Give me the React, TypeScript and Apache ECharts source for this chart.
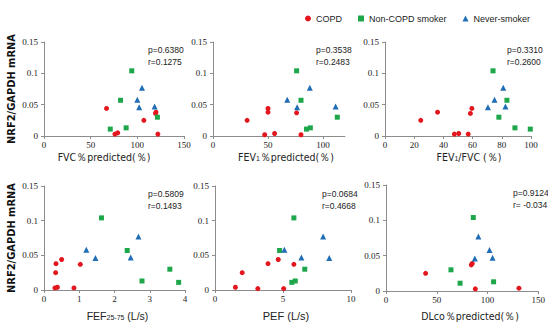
import React, { useEffect, useRef } from "react";
import * as echarts from "echarts";

const groups = ["COPD", "Non-COPD smoker", "Never-smoker"];

// FVC % predicted
const fvcCOPD = [[67, 0.044], [76, 0.003], [79, 0.005], [107, 0.025], [120, 0.038], [119.5, 0.036], [122, 0.003]];
const fvcNonCOPD = [[94, 0.104], [82, 0.057], [71, 0.011], [88, 0.013], [121.5, 0.03]];
const fvcNever = [[105, 0.077], [100, 0.058], [102, 0.046], [118.5, 0.047]];

// FEV1 % predicted
const fev1COPD = [[31, 0.025], [50, 0.044], [50, 0.038], [47, 0.002], [56, 0.004], [76, 0.037], [80, 0.002]];
const fev1NonCOPD = [[76, 0.104], [80, 0.057], [85, 0.011], [88.5, 0.013], [113, 0.03]];
const fev1Never = [[67.5, 0.058], [88, 0.077], [76.5, 0.046], [111.5, 0.047]];

// FEV1/FVC
const ratioCOPD = [[24.5, 0.025], [36, 0.038], [47.5, 0.003], [50.5, 0.004], [57, 0.003], [58.5, 0.036], [59.5, 0.044]];
const ratioNonCOPD = [[74, 0.104], [83.5, 0.057], [78, 0.03], [89, 0.013], [99.5, 0.011]];
const ratioNever = [[81, 0.077], [75, 0.058], [70.5, 0.046], [82.5, 0.047]];

// FEF25-75
const fefCOPD = [[0.31, 0.003], [0.38, 0.004], [0.34, 0.038], [0.33, 0.025], [0.5, 0.044], [0.85, 0.003], [1.03, 0.037]];
const fefNonCOPD = [[1.63, 0.104], [2.36, 0.057], [2.78, 0.013], [3.57, 0.03], [3.82, 0.011]];
const fefNever = [[1.2, 0.058], [1.46, 0.046], [2.68, 0.077], [2.46, 0.047]];

// PEF
const pefCOPD = [[1.5, 0.004], [2.0, 0.025], [3.15, 0.002], [3.9, 0.038], [4.65, 0.044], [5.05, 0.002], [5.8, 0.037]];
const pefNonCOPD = [[5.8, 0.104], [4.75, 0.057], [5.65, 0.011], [5.9, 0.013], [6.6, 0.03]];
const pefNever = [[5.1, 0.058], [6.35, 0.047], [7.95, 0.077], [8.4, 0.046]];

// DLco % predicted
const dlcoCOPD = [[39, 0.025], [84, 0.037], [85, 0.039], [88, 0.003], [131, 0.004]];
const dlcoNonCOPD = [[86, 0.104], [64, 0.03], [73, 0.011], [106, 0.013]];
const dlcoNever = [[91, 0.077], [102, 0.058], [87.5, 0.046], [105, 0.047]];

const xNames = [
  "FVC％predicted(％)",
  "FEV{s|1}％predicted(％)",
  "FEV{s|1}/FVC (％)",
  "FEF{s|25-75} (L/s)",
  "PEF (L/s)",
  "DLco％predicted(％)",
];
const xMax = [150, 120, 100, 4, 10, 150];
const xInterval = [50, 50, 20, 1, 5, 50];
const pValues = ["p=0.6380", "p=0.3538", "p=0.3310", "p=0.5809", "p=0.0684", "p=0.9124"];
const rValues = ["r=0.1275", "r=0.2483", "r=0.2600", "r=0.1493", "r=0.4668", "r= -0.034"];
const yName = "NRF2/GAPDH mRNA";

const panelData = [
  [fvcCOPD, fvcNonCOPD, fvcNever],
  [fev1COPD, fev1NonCOPD, fev1Never],
  [ratioCOPD, ratioNonCOPD, ratioNever],
  [fefCOPD, fefNonCOPD, fefNever],
  [pefCOPD, pefNonCOPD, pefNever],
  [dlcoCOPD, dlcoNonCOPD, dlcoNever],
];

export default function App() {
  const ref = useRef<HTMLDivElement>(null);
  useEffect(() => {
    if (!ref.current) return;
    const chart = echarts.init(ref.current, undefined, { renderer: "svg" });

    const grids = [
      { left: 44, top: 42, width: 140, height: 94 },
      { left: 213, top: 42, width: 132, height: 94 },
      { left: 385, top: 42, width: 146, height: 94 },
      { left: 44, top: 186, width: 141, height: 104 },
      { left: 215, top: 186, width: 136, height: 104 },
      { left: 386, top: 185, width: 157, height: 106 },
    ];
    const nameShift = [-10, 7, 11, 3, 3, 8];
    const nameGaps = [15, 15, 15, 20, 20, 19];
    const statPos = [
      [148, 45], [316, 45], [507, 45],
      [148, 189], [322, 189], [513, 188],
    ];
    const narrow = "'Liberation Sans Narrow', 'DejaVu Sans Condensed', 'Liberation Sans', sans-serif";
    const sans = "'Liberation Sans', Arial, sans-serif";
    const serif = "'Liberation Serif', 'Times New Roman', serif";
    const axisColor = "#8c8c8c";
    const colors = ["#e3161e", "#1ea64b", "#1f6db5"];
    const symbols = ["circle", "rect", "triangle"];
    const sizes = [5, 5, 6];

    const xAxis = grids.map((_, i) => ({
      gridIndex: i,
      type: "value",
      min: 0,
      max: xMax[i],
      interval: xInterval[i],
      name: xNames[i],
      nameLocation: "middle",
      nameGap: nameGaps[i],
      nameTextStyle: {
        fontFamily: i === 4 || i === 3 ? sans : narrow,
        fontSize: i === 4 ? 11 : 10.5,
        color: "#222",
        padding: nameShift[i] >= 0 ? [0, 0, 0, nameShift[i] * 2] : [0, -nameShift[i] * 2, 0, 0],
        rich: {
          s: { fontSize: 7, fontFamily: sans, color: "#222", verticalAlign: "bottom", padding: [3, 0, 0, 0] },
        },
      },
      axisLine: { lineStyle: { color: axisColor, width: 1 } },
      axisTick: { length: 3, lineStyle: { color: axisColor } },
      axisLabel: { fontFamily: serif, fontSize: 9, color: "#222", margin: 4, showMaxLabel: xMax[i] % xInterval[i] === 0 },
      splitLine: { show: false },
    }));

    const yAxis = grids.map((_, i) => ({
      gridIndex: i,
      type: "value",
      min: 0,
      max: 0.15,
      interval: 0.05,
      name: i === 0 || i === 3 ? yName : "",
      nameLocation: "middle",
      nameGap: 27,
      nameTextStyle: { fontFamily: narrow, fontSize: 11, fontWeight: "bold", color: "#111" },
      axisLine: { show: true, lineStyle: { color: axisColor, width: 1 } },
      axisTick: { show: true, length: 3, lineStyle: { color: axisColor } },
      axisLabel: {
        fontFamily: serif,
        fontSize: 9,
        color: "#222",
        margin: 6,
        formatter: (v: number) => String(Math.round(v * 100) / 100),
      },
      splitLine: { show: false },
    }));

    const series: any[] = [];
    panelData.forEach((pd, i) => {
      pd.forEach((pts, g) => {
        series.push({
          type: "scatter",
          name: groups[g],
          xAxisIndex: i,
          yAxisIndex: i,
          symbol: symbols[g],
          symbolSize: sizes[g],
          itemStyle: { color: colors[g], opacity: 1 },
          data: pts,
        });
      });
    });

    const graphic: any[] = [];
    statPos.forEach(([x, y], i) => {
      graphic.push({
        type: "text",
        left: x,
        top: y,
        style: { text: pValues[i], fontSize: 8.5, fontFamily: sans, fill: "#222" },
      });
      graphic.push({
        type: "text",
        left: x,
        top: y + 12,
        style: { text: rValues[i], fontSize: 8.5, fontFamily: sans, fill: "#222" },
      });
    });

    chart.setOption({
      animation: false,
      backgroundColor: "#fff",
      legend: {
        left: 300,
        top: 9,
        itemWidth: 6,
        itemHeight: 6,
        itemGap: 16,
        textStyle: { fontFamily: sans, fontSize: 9, color: "#222" },
        data: [
          { name: groups[0], icon: "circle" },
          { name: groups[1], icon: "rect" },
          { name: groups[2], icon: "triangle" },
        ],
      },
      grid: grids,
      xAxis,
      yAxis,
      series,
      graphic,
    });
    return () => chart.dispose();
  }, []);
  return (
    <div
      ref={ref}
      style={{ position: "absolute", left: 0, top: 0, width: 548, height: 322 }}
    />
  );
}
